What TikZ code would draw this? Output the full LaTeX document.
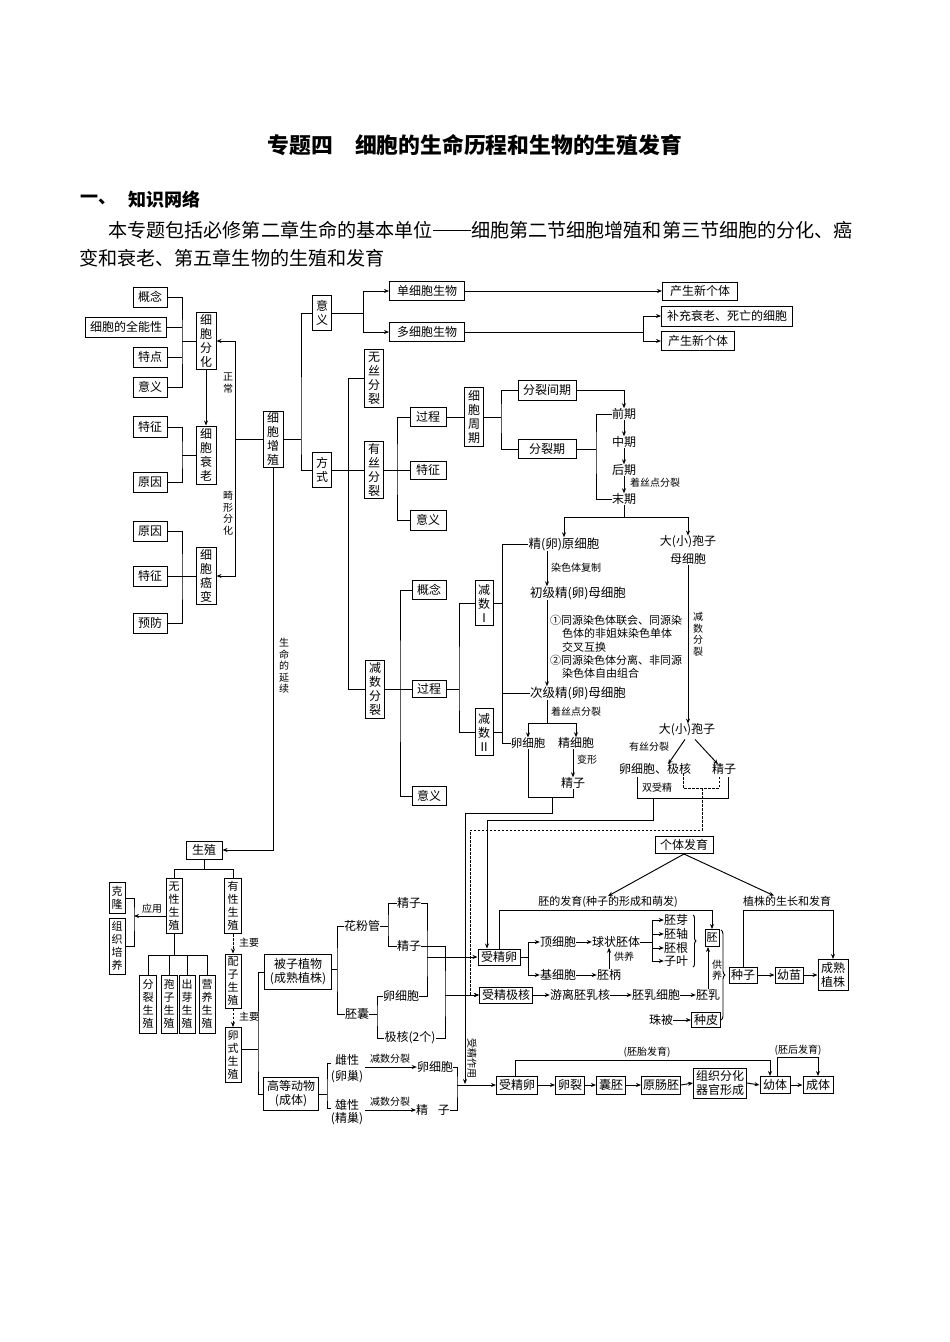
\documentclass[tikz,border=0pt]{standalone}
\usepackage{fontspec}
\setmainfont{Noto Sans CJK SC}
\usetikzlibrary{arrows.meta,calc,decorations.pathreplacing}
\newcommand\myfs[2]{\fontsize{#1}{#2}\selectfont}
\newcommand\mydash{\makebox[2em]{\rule[0.32em]{1.95em}{0.06em}}}
\begin{document}
\begin{tikzpicture}[x=1pt,y=-1pt,
  bx/.style={draw,line width=1pt,inner sep=0pt,align=center,font=\myfs{12}{14}},
  vb/.style={draw,line width=1pt,inner sep=0pt,align=center,font=\myfs{12}{14}},
  nb/.style={draw,line width=1pt,inner sep=0pt,align=center,font=\myfs{11}{13}},
  wh/.style 2 args={minimum width=#1,minimum height=#2},
  tx/.style={inner sep=0pt,font=\myfs{12}{14},align=center},
  sm/.style={inner sep=0pt,font=\myfs{10}{11.5},align=center},
  sn/.style={inner sep=0pt,font=\myfs{11}{13},align=center},
  ln/.style={line width=0.95pt},
  ar/.style={line width=0.95pt,-{Stealth[length=5pt,width=4pt]}},
  da/.style={line width=0.95pt,dash pattern=on 2.5pt off 1.5pt,-{Stealth[length=5pt,width=4pt]}},
  dl/.style={line width=0.95pt,dash pattern=on 2.5pt off 1.5pt},
  br/.style={line width=0.95pt,decorate,decoration={brace,amplitude=#1}}
]
\path[use as bounding box] (0,0) rectangle (950,1342);

% ---------- header ----------
\node[inner sep=0pt,font=\myfs{21.8}{24}\bfseries] (title) at (475,145) {专题四\hspace{1em}细胞的生命历程和生物的生殖发育};
\node[inner sep=0pt,anchor=west,font=\myfs{18}{20}\bfseries] (h1) at (80,200) {一、};
\node[inner sep=0pt,anchor=west,font=\myfs{18}{20}\bfseries] (h2) at (128,200) {知识网络};
\node[inner sep=0pt,anchor=west,font=\myfs{19.1}{22}] (par1) at (108,230) {本专题包括必修第二章生命的基本单位\mydash 细胞第二节细胞增殖和第三节细胞的分化、癌};
\node[inner sep=0pt,anchor=west,font=\myfs{19.1}{22}] (par2) at (79,258) {变和衰老、第五章生物的生殖和发育};

% ---------- left column ----------
\node[bx,wh={34}{20}] (gn) at (150,297) {概念};
\node[bx,wh={81}{20}] (qnx) at (126,327) {细胞的全能性};
\node[bx,wh={34}{20}] (td) at (150,357) {特点};
\node[bx,wh={34}{20}] (yy1) at (150,387) {意义};
\node[vb,wh={20}{57}] (fh) at (206,341) {细\\胞\\分\\化};
\node[bx,wh={34}{21}] (tz1) at (150,427) {特征};
\node[bx,wh={34}{20}] (yy2) at (150,482) {原因};
\node[vb,wh={20}{58}] (sl) at (206,455) {细\\胞\\衰\\老};
\node[bx,wh={34}{20}] (yy3) at (150,531) {原因};
\node[bx,wh={34}{20}] (tz2) at (150,576) {特征};
\node[bx,wh={34}{20}] (yf) at (150,623) {预防};
\node[vb,wh={20}{57}] (ab) at (206,576) {细\\胞\\癌\\变};
\node[sm] (lzc) at (228,383) {正\\常};
\node[sm] (lj) at (228,513) {畸\\形\\分\\化};
\node[vb,wh={20}{56}] (zz) at (273,439) {细\\胞\\增\\殖};
\node[sm] (lsm) at (284,666) {生\\命\\的\\延\\续};

% ---------- middle ----------
\node[vb,wh={19}{35}] (yy4) at (322,313) {意\\义};
\node[vb,wh={19}{35}] (fs) at (322,470) {方\\式};
\node[bx,wh={75}{19}] (dxb) at (427,291) {单细胞生物};
\node[bx,wh={75}{19}] (dxb2) at (427,332) {多细胞生物};
\node[bx,wh={75}{18}] (cs1) at (700,291) {产生新个体};
\node[bx,wh={131}{20}] (bc) at (727,316) {补充衰老、死亡的细胞};
\node[bx,wh={73}{19}] (cs2) at (698,341) {产生新个体};
\node[vb,wh={19}{58}] (ws) at (374,378) {无\\丝\\分\\裂};
\node[vb,wh={19}{57}] (ys) at (374,470) {有\\丝\\分\\裂};
\node[bx,wh={36}{19}] (gc1) at (428,417) {过程};
\node[bx,wh={36}{18}] (tz3) at (428,470) {特征};
\node[bx,wh={36}{20}] (yy5) at (428,520) {意义};
\node[vb,wh={19}{59}] (zq) at (474,417) {细\\胞\\周\\期};
\node[bx,wh={58}{20}] (jq) at (547,390) {分裂间期};
\node[bx,wh={58}{19}] (lq) at (547,449) {分裂期};
\node[tx] (p1) at (624,414) {前期};
\node[tx] (p2) at (624,442) {中期};
\node[tx] (p3) at (624,470) {后期};
\node[tx] (p4) at (624,499) {末期};
\node[sm,anchor=west] (lzs) at (630,483) {着丝点分裂};

% ---------- meiosis ----------
\node[vb,wh={19}{58}] (jsfl) at (375,689) {减\\数\\分\\裂};
\node[bx,wh={34}{19}] (gn2) at (429,590) {概念};
\node[bx,wh={34}{17}] (gc2) at (429,689) {过程};
\node[bx,wh={34}{19}] (yy6) at (429,796) {意义};
\node[vb,wh={18}{45}] (j1) at (484,603) {减\\数\\Ⅰ};
\node[vb,wh={18}{47}] (j2) at (484,732) {减\\数\\Ⅱ};
\node[tx,font=\myfs{12.5}{14}] (ja) at (564,544) {精(卵)原细胞};
\node[sm,anchor=west] (lrs) at (551,568) {染色体复制};
\node[tx,font=\myfs{12.5}{14}] (cjm) at (578,593) {初级精(卵)母细胞};
\node[sn,anchor=west] (n1) at (550,620) {①同源染色体联会、同源染};
\node[sn,anchor=west] (n2) at (562,633) {色体的非姐妹染色单体};
\node[sn,anchor=west] (n3) at (562,647) {交叉互换};
\node[sn,anchor=west] (n4) at (550,660) {②同源染色体分离、非同源};
\node[sn,anchor=west] (n5) at (562,673) {染色体自由组合};
\node[tx,font=\myfs{12.5}{14}] (cj) at (578,693) {次级精(卵)母细胞};
\node[sm,anchor=west] (lzs2) at (551,712) {着丝点分裂};
\node[tx,font=\myfs{11.5}{14}] (lxb) at (528,743) {卵细胞};
\node[tx] (jxb) at (576,743) {精细胞};
\node[sm,anchor=west] (lbx) at (577,760) {变形};
\node[tx] (jz1) at (573,783) {精子};

% ---------- spores ----------
\node[tx] (dz1) at (688,542) {大(小)孢子};
\node[tx] (mxb) at (688,559) {母细胞};
\node[sm] (ljs) at (698,634) {减\\数\\分\\裂};
\node[tx] (dz2) at (687,730) {大(小)孢子};
\node[sm] (lys) at (649,747) {有丝分裂};
\node[tx] (lxjh) at (655,769) {卵细胞、极核};
\node[tx] (jz2) at (724,769) {精子};
\node[sm] (lsj) at (657,788) {双受精};

% ---------- reproduction ----------
\node[bx,wh={36}{18}] (sz) at (204,850) {生殖};
\node[nb,wh={16}{55}] (wx) at (174,906) {无\\性\\生\\殖};
\node[nb,wh={17}{55}] (yx) at (233,906) {有\\性\\生\\殖};
\node[nb,wh={16}{31}] (kl) at (117,898) {克\\隆};
\node[nb,wh={16}{56}] (zzpy) at (117,946) {组\\织\\培\\养};
\node[sm] (lyy) at (152,909) {应用};
\node[nb,wh={17}{58}] (s1) at (148,1004) {分\\裂\\生\\殖};
\node[nb,wh={16}{58}] (s2) at (169,1004) {孢\\子\\生\\殖};
\node[nb,wh={16}{58}] (s3) at (187,1004) {出\\芽\\生\\殖};
\node[nb,wh={16}{58}] (s4) at (207,1004) {营\\养\\生\\殖};
\node[nb,wh={16}{54}] (pz) at (233,981) {配\\子\\生\\殖};
\node[nb,wh={16}{55}] (lss) at (233,1055) {卵\\式\\生\\殖};
\node[sm,anchor=west] (lzy1) at (239,943) {主要};
\node[sm,anchor=west] (lzy2) at (239,1017) {主要};
\node[bx,wh={67}{35}] (bz) at (298,972) {被子植物\\(成熟植株)};
\node[bx,wh={55}{33}] (gd) at (291,1094) {高等动物\\(成体)};
\node[tx] (hfg) at (362,926) {花粉管};
\node[tx] (pn) at (357,1014) {胚囊};
\node[tx] (jz3) at (409,903) {精子};
\node[tx] (jz4) at (409,946) {精子};
\node[tx] (lxb2) at (401,996) {卵细胞};
\node[tx] (jh) at (410,1038) {极核(2个)};
\node[tx] (cx) at (347,1060) {雌性};
\node[tx] (lc) at (347,1077) {(卵巢)};
\node[tx] (xx) at (347,1105) {雄性};
\node[tx] (jc) at (347,1119) {(精巢)};
\node[sm] (ljs1) at (390,1059) {减数分裂};
\node[sm] (ljs2) at (390,1102) {减数分裂};
\node[tx] (lxb3) at (435,1067) {卵细胞};
\node[tx] (jz5) at (433,1110) {精\hspace{0.8em}子};

% ---------- development ----------
\node[bx,wh={58}{17}] (gtfy) at (684,845) {个体发育};
\node[sn] (lpf) at (608,902) {胚的发育(种子的形成和萌发)};
\node[sn] (lzf) at (787,901) {植株的生长和发育};
\node[bx,wh={42}{16}] (zyg) at (499,957) {受精卵};
\node[bx,wh={53}{16}] (fpn) at (506,995) {受精极核};
\node[tx] (dxb3) at (558,942) {顶细胞};
\node[tx] (qz) at (616,942) {球状胚体};
\node[tx] (jxb3) at (558,975) {基细胞};
\node[tx] (pb) at (609,975) {胚柄};
\node[sm,anchor=west] (lgy) at (614,957) {供养};
\node[tx] (py) at (676,920) {胚芽};
\node[tx] (pzh) at (676,934) {胚轴};
\node[tx] (pg) at (676,948) {胚根};
\node[tx] (zy) at (676,961) {子叶};
\node[bx,wh={14}{17},font=\myfs{11}{13}] (pei) at (712,938) {胚};
\node[tx] (ylr) at (580,995) {游离胚乳核};
\node[tx] (prx) at (656,995) {胚乳细胞};
\node[tx] (pr) at (708,995) {胚乳};
\node[sm] (lgy2) at (717,970) {供\\养};
\node[tx] (zb) at (661,1020) {珠被};
\node[bx,wh={29}{15}] (zp) at (706,1020) {种皮};
\node[bx,wh={28}{16}] (zz2) at (743,975) {种子};
\node[bx,wh={28}{16}] (ym) at (789,975) {幼苗};
\node[bx,wh={30}{31}] (csz) at (833,975) {成熟\\植株};
\node[bx,wh={41}{18}] (zyg2) at (517,1085) {受精卵};
\node[bx,wh={29}{18}] (ll) at (570,1085) {卵裂};
\node[bx,wh={29}{18}] (np) at (611,1085) {囊胚};
\node[bx,wh={39}{18}] (ycp) at (661,1085) {原肠胚};
\node[bx,wh={53}{30}] (zzfh) at (720,1083) {组织分化\\器官形成};
\node[bx,wh={30}{17}] (yt) at (775,1085) {幼体};
\node[bx,wh={30}{17}] (ct) at (818,1085) {成体};
\node[sm] (lpt) at (647,1052) {(胚胎发育)};
\node[sm] (lph) at (798,1050) {(胚后发育)};
\node[sm,rotate=-90] (lszy) at (472,1058) {受精作用};

% ================= connectors =================
% left column
\coordinate (b1) at (182,341);
\draw[ln] (gn.east) -| (b1) |- (yy1.east);
\draw[ln] (qnx.east) -- (qnx.east -| b1);
\draw[ln] (td.east) -- (td.east -| b1);
\draw[ln] (b1) -- (fh.west);
\draw[ar] (fh.south) -- (sl.north);
\coordinate (b2) at (182,455);
\draw[ln] (tz1.east) -| (b2) |- (yy2.east);
\draw[ln] (b2) -- (sl.west);
\coordinate (b3) at (182,576);
\draw[ln] (yy3.east) -| (b3) |- (yf.east);
\draw[ln] (tz2.east) -- (ab.west);
\coordinate (c1) at (235,439);
\draw[ln] (zz.west) -- (c1);
\draw[ar] (c1) |- (fh.east);
\draw[ar] (c1) |- (ab.east);
\coordinate (c2) at (301,439);
\draw[ln] (zz.east) -- (c2);
\draw[ln] (yy4.west) -| (c2) |- (fs.west);
\draw[ar] (zz.south) |- (sz.east);

% significance
\coordinate (c4) at (363,313);
\draw[ln] (yy4.east) -- (c4);
\draw[ar] (c4) |- (dxb.west);
\draw[ar] (c4) |- (dxb2.west);
\draw[ar] (dxb.east) -- (cs1.west);
\coordinate (c5) at (643,332);
\draw[ln] (dxb2.east) -- (c5);
\draw[ar] (c5) |- (bc.west);
\draw[ar] (c5) |- (cs2.west);

% modes
\draw[ln] (fs.east) -- (ys.west);
\coordinate (c6) at (348,378);
\draw[ln] (ws.west) -- (c6) |- (jsfl.west);
\coordinate (c7) at (397,470);
\draw[ln] (ys.east) -- (tz3.west);
\draw[ln] (gc1.west) -| (c7) |- (yy5.west);
\draw[ln] (gc1.east) -- (zq.west);
\coordinate (c8) at (501,417);
\draw[ln] (zq.east) -- (c8);
\draw[ln] (jq.west) -| (c8) |- (lq.west);
\draw[ar] (jq.east) -| (p1.north);
\coordinate (c9) at (596,449);
\draw[ln] (lq.east) -- (c9);
\draw[ln] (p1.west) -| (c9) |- (p4.west);
\draw[ar] (p1.south) -- (p2.north);
\draw[ar] (p2.south) -- (p3.north);
\draw[ar] (p3.south) -- (p4.north);
\coordinate (c10) at (624,517);
\draw[ln] (p4.south) -- (c10);
\draw[ar] (c10) -| (ja.north);
\draw[ar] (c10) -| (dz1.north);

% meiosis
\draw[ln] (jsfl.east) -- (gc2.west);
\coordinate (c13) at (400,689);
\draw[ln] (gn2.west) -| (c13) |- (yy6.west);
\coordinate (c14) at (459,689);
\draw[ln] (gc2.east) -- (c14);
\draw[ln] (j1.west) -| (c14) |- (j2.west);
\coordinate (xv) at (502,0);
\draw[ln] (ja.west) -| (xv |- lxb.west) -- (lxb.west);
\draw[ln] (j1.east) -- (j1.east -| xv);
\draw[ln] (j2.east) -- (j2.east -| xv);
\draw[ln] (cj.west) -- (cj.west -| xv);
\coordinate (xa) at (547,0);
\draw[ar] (ja.south -| xa) -- (cjm.north -| xa);
\draw[ar] (cjm.south -| xa) -- (cj.north -| xa);
\coordinate (c16) at (547,723);
\draw[ln] (cj.south -| xa) -- (c16);
\draw[ar] (c16) -| (lxb.north);
\draw[ar] (c16) -| (jxb.north);
\draw[ar] (jxb.south -| jz1.north) -- (jz1.north);
\coordinate (c17) at (552,797);
\draw[ln] (lxb.south) |- (c17) -| (jz1.south);
\coordinate (c18) at (465,813);
\coordinate (c19) at (465,1084);
\draw[ar] (c17) |- (c18) -- (c19);

% spores
\draw[ar] (mxb.south) -- (mxb.south |- dz2.north);
\draw[ar] ($(dz2.south)+(-2,3)$) -- ($(lxjh.north)+(13,1)$);
\draw[ar] ($(dz2.south)+(8,3)$) -- ($(jz2.north)+(-6,1)$);
\coordinate (q1) at (637,777);
\coordinate (q2) at (728,777);
\coordinate (qm) at (653,798);
\draw[ln] (q1) |- (qm) -| (q2);
\coordinate (q5) at (487,820);
\draw[ar] (qm) |- (q5) -- (zyg.north -| q5);
\coordinate (d1) at (683,773);
\coordinate (d2) at (719,775);
\coordinate (dm) at (702,788);
\draw[dl] (d1) |- (dm) -| (d2);
\coordinate (d5) at (470,830);
\draw[da] (dm) |- (d5) |- (fpn.west);

% reproduction
\coordinate (e1) at (204,869);
\draw[ln] (sz.south) -- (e1);
\draw[ln] (wx.north) |- (e1) -| (yx.north);
\coordinate (kb) at (134,916);
\draw[ar] (wx.west |- kb) -- (kb);
\draw[ln] (kl.east) -| (kb) |- (zzpy.east);
\coordinate (e3) at (174,955);
\draw[ln] (wx.south) -- (e3);
\draw[ln] (s1.north) |- (e3) -| (s4.north);
\draw[ln] (s2.north) -- (s2.north |- e3);
\draw[ln] (s3.north) -- (s3.north |- e3);
\draw[da] (yx.south) -- (pz.north);
\draw[da] (pz.south) -- (lss.north);
\coordinate (e4) at (258,1049);
\draw[ln] (lss.east |- e4) -- (e4);
\draw[ln] (bz.west) -| (e4) |- (gd.west);
\coordinate (e5) at (337,969);
\draw[ln] (bz.east |- e5) -- (e5);
\draw[ln] (hfg.west) -| (e5) |- (pn.west);
\coordinate (e6) at (388,926);
\draw[ln] (hfg.east) -- (e6);
\draw[ln] (jz3.west) -| (e6) |- (jz4.west);
\coordinate (e7) at (377,1014);
\draw[ln] (pn.east) -- (e7);
\draw[ln] (lxb2.west) -| (e7) |- (jh.west);
\coordinate (e8) at (427,957);
\draw[ln] (jz3.east) -| (e8) |- (lxb2.east);
\draw[ar] (e8) -- (zyg.west);
\coordinate (e9) at (445,995);
\draw[ln] (jz4.east) -| (e9) |- (jh.east);
\draw[ar] (e9) -- (fpn.west);

% animals
\coordinate (e10) at (327,1094);
\coordinate (e10t) at (331,1063);
\coordinate (e10b) at (331,1108);
\draw[ln] (gd.east) -- (e10);
\draw[ln] (e10t) -| (e10) |- (e10b);
\draw[ar] ($(cx.east |- lxb3)+(6,0)$) -- (lxb3.west);
\draw[ar] ($(xx.east |- jz5)+(6,0)$) -- (jz5.west);
\coordinate (e11) at (457,1085);
\draw[ln] (lxb3.east) -| (e11) |- (jz5.east);
\draw[ar] (e11) -- (zyg2.west);

% plant development
\draw[ar] (gtfy.south) -- (lpf.north);
\draw[ar] (gtfy.south) -- ($(lzf.north)+(-13,0)$);
\coordinate (f0) at (0,910);
\draw[ar] (zyg.north) -- (zyg.north |- f0) -| (pei.north);
\coordinate (f1) at (528,957);
\draw[ln] (zyg.east) -- (f1);
\draw[ar] (f1) |- (dxb3.west);
\draw[ar] (f1) |- (jxb3.west);
\draw[ar] (dxb3.east) -- (qz.west);
\draw[ar] (jxb3.east) -- (pb.west);
\draw[ar] (pb.north) -- (pb.north |- qz.south);
\coordinate (f2) at (652,942);
\draw[ln] (qz.east) -- (f2);
\draw[ar] (f2) |- (py.west);
\draw[ar] (f2) |- (pzh.west);
\draw[ar] (f2) |- (pg.west);
\draw[ar] (f2) |- (zy.west);
\coordinate (bt1) at (693,915);
\coordinate (bt2) at (693,967);
\draw[br=3pt] (bt1) -- (bt2);
\coordinate (bt3) at (721,930);
\coordinate (bt4) at (721,1020);
\draw[br=4pt] (bt3) -- (bt4);
\draw[ar] (fpn.east) -- (ylr.west);
\draw[ar] (ylr.east) -- (prx.west);
\draw[ar] (prx.east) -- (pr.west);
\draw[ar] (pr.north) -- (pr.north |- pei.south);
\draw[ar] (zb.east) -- (zp.west);
\draw[ar] (zz2.east) -- (ym.west);
\draw[ar] (ym.east) -- (csz.west);
\draw[ar] (zz2.north) -- (zz2.north |- f0) -| (csz.north);

% animal development
\draw[ar] (zyg2.east) -- (ll.west);
\draw[ar] (ll.east) -- (np.west);
\draw[ar] (np.east) -- (ycp.west);
\draw[ar] (ycp.east) -- (zzfh.west);
\draw[ar] (zzfh.east) -- (yt.west);
\draw[ar] (yt.east) -- (ct.west);
\coordinate (h1) at (0,1060);
\coordinate (h2) at (0,1057);
\coordinate (zt) at ($(zyg2.north)+(-2,0)$);
\coordinate (yt1) at ($(yt.north)+(-5,0)$);
\coordinate (yt2) at ($(yt.north)+(2,0)$);
\draw[ar] (zt) -- (zt |- h1) -| (yt1);
\draw[ar] (yt2) -- (yt2 |- h2) -| (ct.north);
\end{tikzpicture}
\end{document}
